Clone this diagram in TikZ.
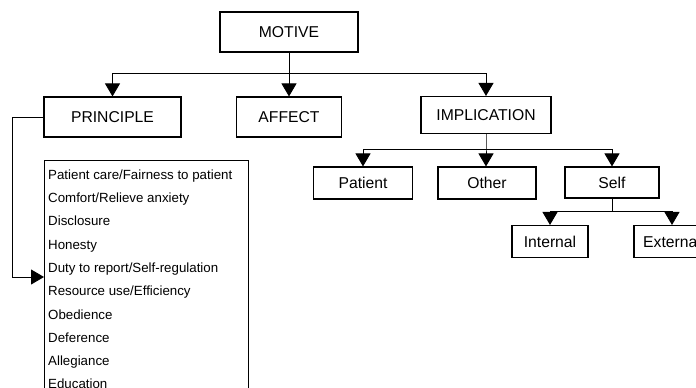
\documentclass[tikz,border=0pt]{standalone}
\usepackage{fontspec}
\setmainfont{Liberation Sans}
\usetikzlibrary{arrows.meta,calc,positioning}

\tikzset{
  catbox/.style={draw,line width=1.1pt,inner sep=0pt,font=\fontsize{15.7}{18}\selectfont},
  listitem/.style={inner sep=0pt,anchor=base west,font=\fontsize{13.3}{16}\selectfont},
  conn/.style={line width=0.9pt,-{Triangle[length=13pt,width=15pt]}},
}

\begin{document}
\begin{tikzpicture}[x=1pt,y=-1pt]
\useasboundingbox (0,0) rectangle (696,388);
\clip (0,0) rectangle (696,388);

% top level
\node[catbox,minimum width=138,minimum height=40] (motive) at (289,32) {MOTIVE};
\node[catbox,minimum width=137,minimum height=40] (principle) at (112.5,117) {PRINCIPLE};
\node[catbox,minimum width=105,minimum height=40] (affect) at (289,117) {AFFECT};
\node[catbox,minimum width=130,minimum height=37] (implication) at (486,115) {IMPLICATION};

% implication branches
\node[catbox,minimum width=99,minimum height=32] (patient) at (363,183) {Patient};
\node[catbox,minimum width=98,minimum height=32] (other) at (487,183) {Other};
\node[catbox,minimum width=94,minimum height=31] (self) at (612,182.5) {Self};
\node[catbox,minimum width=76,minimum height=32] (internal) at (550,241.5) {Internal};
\node[catbox,minimum width=76,minimum height=32] (external) at (672,241.5) {External};

% principle list
\node[draw,line width=1.1pt,anchor=north west,minimum width=204,minimum height=260,inner sep=0pt] (list) at (44,160) {};
\foreach \item [count=\i] in {Patient care/Fairness to patient,Comfort/Relieve anxiety,Disclosure,Honesty,Duty to report/Self-regulation,Resource use/Efficiency,Obedience,Deference,Allegiance,Education}
  \node[listitem] (item\i) at ($(list.north west)+(4,19.2+23.3*\i-23.3)$) {\item};

% connectors
\coordinate (mbar) at (289,73);
\draw[conn] (motive.south) -- (affect.north);
\draw[conn] (mbar) -| (principle.north);
\draw[conn] (mbar) -| (implication.north);

\coordinate (ibar) at (486,149);
\draw[conn] (implication.south) -- (ibar) -- (other.north -| ibar);
\draw[conn] (ibar) -| (patient.north);
\draw[conn] (ibar) -| (self.north);

\coordinate (sbar) at (612,211);
\draw[line width=0.9pt] (self.south) -- (sbar);
\draw[conn] (sbar) -| (internal.north);
\draw[conn] (sbar) -| (external.north);

\coordinate (ploop) at (12,277);
\coordinate (lin) at (44,277);
\draw[conn] (principle.west) -| (ploop) -- (lin);
\end{tikzpicture}
\end{document}
